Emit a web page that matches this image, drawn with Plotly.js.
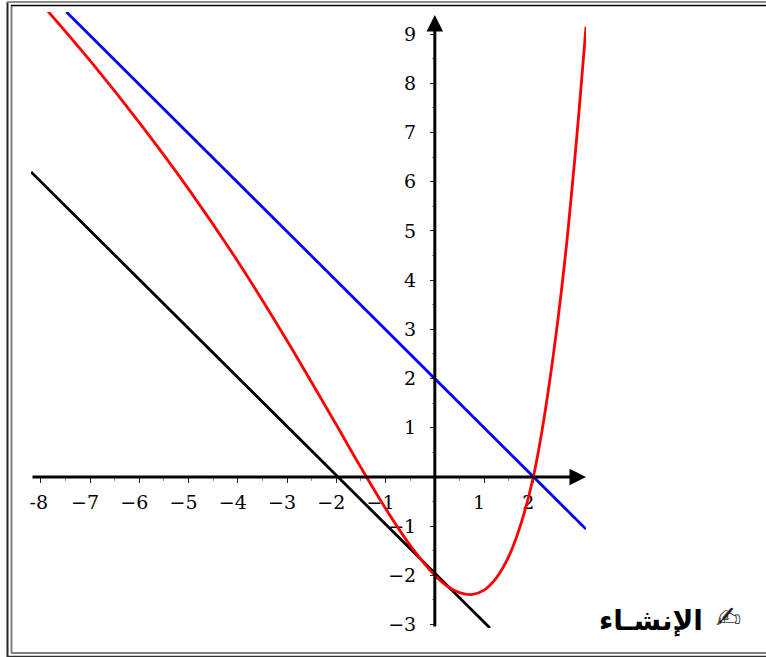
<!DOCTYPE html>
<html>
<head>
<meta charset="utf-8">
<script src="https://cdn.plot.ly/plotly-3.0.1.min.js"></script>
<style>
  html, body { margin: 0; padding: 0; background: #fff; overflow: hidden; }
  #chart { width: 766px; height: 657px; }
</style>
</head>
<body>
<div id="chart"></div>
<script>
const W = 766, H = 657;

const curveX = [-7.86, -7, -6, -5, -4, -3, -2.5, -2, -1.5, -1, -0.5, 0, 0.25, 0.5, 0.75, 1, 1.25, 1.5, 1.75, 2, 2.17, 2.34, 2.51, 2.66, 2.78, 2.91, 3.01, 3.07];
const curveY = [9.47, 8.46, 7.20, 5.85, 4.38, 2.77, 1.92, 1.06, 0.19, -0.64, -1.39, -2, -2.22, -2.35, -2.39, -2.30, -2.05, -1.62, -0.95, 0, 0.90, 2.00, 3.28, 4.58, 5.80, 7.22, 8.42, 9.15];
const blueX = [-7.48, 3.07];
const blueY = [9.45, -1.06];
const blackX = [-8.2, 1.12];
const blackY = [6.2, -3.07];

const xTicks = [-8, -7, -6, -5, -4, -3, -2, -1, 1, 2];
const xLabels = ['\u00a0-8', '−7', '−6', '−5', '−4', '−3', '−2', '−1', '1', '2'];
const xMinor = [-7.5, -6.5, -5.5, -4.5, -3.5, -2.5, -1.5, -0.5, 0.5, 1.5];
const yTicks = [-3, -2, -1, 1, 2, 3, 4, 5, 6, 7, 8, 9];
const yLabels = ['−3', '−2', '−1', '1', '2', '3', '4', '5', '6', '7', '8', '9'];
const yMinor = [-2.5, -1.5, -0.5, 0.5, 1.5, 2.5, 3.5, 4.5, 5.5, 6.5, 7.5, 8.5];

const INK = '#000';
const TICK_FONT = { family: '"DejaVu Serif", serif', size: 19, color: INK };

const px = v => v / W;
const py = v => 1 - v / H;

/* --- Page frame: [x0, y0, x1, y1, color, width] in page pixels --- */
const frameLines = [
  [7.5, 2, 7.5, 657, '#222', 2],
  [7, 2, 766, 2, '#8a8a8a', 2],
  [7, 656.5, 766, 656.5, '#333', 1.5],
  [11.5, 5.5, 11.5, 653, '#808080', 2],
  [11, 5.5, 766, 5.5, INK, 1.5],
  [11, 653, 766, 653, '#808080', 2],
];

const traces = [
  { x: blackX, y: blackY, mode: 'lines', cliponaxis: false, line: { color: INK, width: 2.8 } },
  { x: blueX, y: blueY, mode: 'lines', cliponaxis: false, line: { color: '#0000ff', width: 2.8 } },
  { x: curveX, y: curveY, mode: 'lines', cliponaxis: false, line: { color: '#ff0000', width: 2.8, shape: 'spline', smoothing: 1 } },
];

const axisBase = {
  anchor: 'free',
  showgrid: false,
  zeroline: false,
  showline: false,
  ticks: 'outside',
  ticklen: 5,
  tickwidth: 1,
  tickcolor: '#222',
  tickmode: 'array',
  tickfont: TICK_FONT,
  layer: 'below traces',
};
const minorBase = { tickmode: 'array', ticks: 'outside', ticklen: 3, tickwidth: 1, tickcolor: '#999' };

// the axis lines are the shafts of these arrows
const arrowBase = { axref: 'x', ayref: 'y', text: '', showarrow: true, arrowhead: 2, arrowsize: 1.1, arrowwidth: 3, arrowcolor: INK };

const layout = {
  width: W,
  height: H,
  margin: { t: 0, r: 0, b: 0, l: 0 },
  paper_bgcolor: '#fff',
  plot_bgcolor: '#fff',
  showlegend: false,
  xaxis: {
    ...axisBase,
    domain: [px(31), px(586)],
    range: [-8.2, 3.07],
    position: py(477),
    tickvals: xTicks,
    ticktext: xLabels,
    ticklabelshift: -5,
    ticklabelstandoff: 3,
    minor: { ...minorBase, tickvals: xMinor },
  },
  yaxis: {
    ...axisBase,
    domain: [py(628), py(12)],
    range: [-3.07, 9.45],
    position: px(435),
    tickvals: yTicks,
    ticktext: yLabels,
    ticklabelstandoff: 10,
    minor: { ...minorBase, tickvals: yMinor },
  },
  shapes: frameLines.map(l => ({
    type: 'line', xref: 'paper', yref: 'paper',
    x0: px(l[0]), y0: py(l[1]), x1: px(l[2]), y1: py(l[3]),
    line: { color: l[4], width: l[5] },
  })),
  annotations: [
    { ...arrowBase, x: 3.07, y: 0, ax: -8.2, ay: 0 },
    { ...arrowBase, x: 0, y: 9.39, ax: 0, ay: -3.07 },
    // section heading
    { xref: 'paper', yref: 'paper', xanchor: 'center', yanchor: 'middle', x: px(651), y: py(620), text: 'الإنشـاء', showarrow: false,
      font: { family: '"DejaVu Sans", sans-serif', size: 28, color: INK, weight: 700 } },
    { xref: 'paper', yref: 'paper', xanchor: 'center', yanchor: 'middle', x: px(728), y: py(617), text: '✍', showarrow: false,
      font: { family: '"DejaVu Sans", sans-serif', size: 30, color: '#222' } },
  ],
};

Plotly.newPlot('chart', traces, layout, { displayModeBar: false, responsive: false });
</script>
</body>
</html>
